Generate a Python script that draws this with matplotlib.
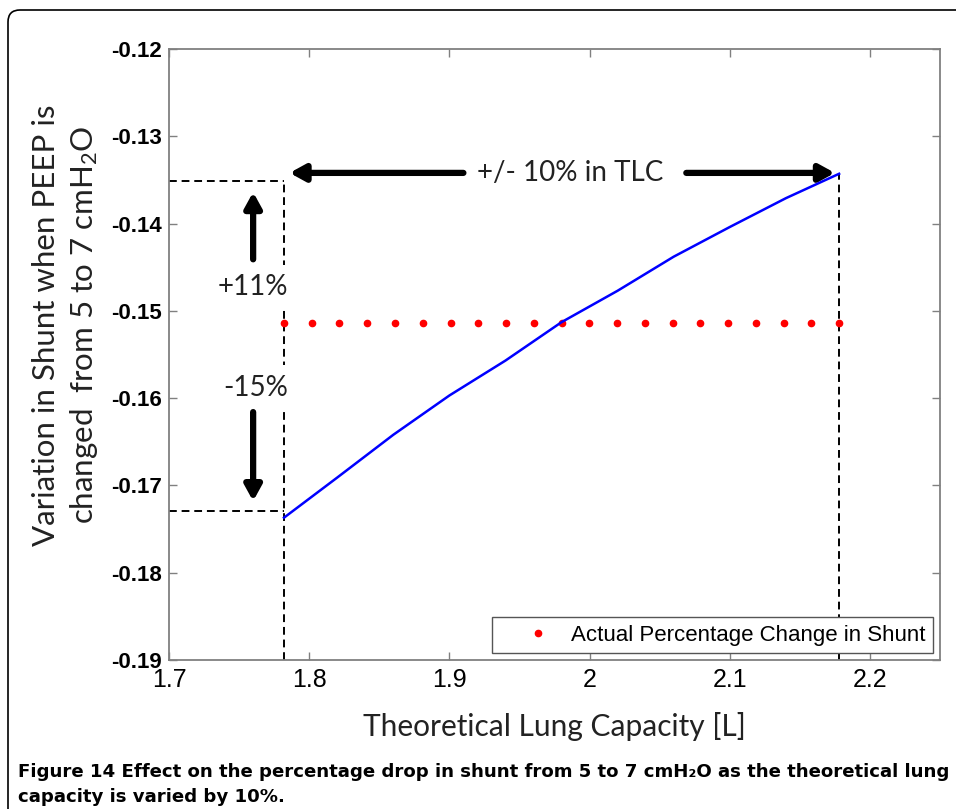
import matplotlib
matplotlib.use('Agg')
import matplotlib.pyplot as plt
from matplotlib.patches import FancyBboxPatch

plt.rcParams['axes.unicode_minus'] = False
plt.rcParams['mathtext.fontset'] = 'custom'
plt.rcParams['mathtext.rm'] = 'Lato'
plt.rcParams['mathtext.it'] = 'Lato:italic'

# blue curve: shunt change vs theoretical lung capacity
tlc = [1.782, 1.82, 1.86, 1.90, 1.94, 1.98, 2.02, 2.06, 2.10, 2.14, 2.178]
shunt = [-0.1737, -0.1691, -0.1642, -0.1597, -0.1557, -0.1513,
         -0.1477, -0.1438, -0.1404, -0.1371, -0.1343]

# red dotted reference (actual percentage change)
actual_x = [1.782 + 0.0198 * i for i in range(21)]
actual_y = [-0.1514] * 21

tlc_low, tlc_high = 1.782, 2.178
shunt_low, shunt_high = -0.1729, -0.1351
arrow_y = -0.1342

xticks = [1.7, 1.8, 1.9, 2.0, 2.1, 2.2]
xticklabels = ['1.7', '1.8', '1.9', '2', '2.1', '2.2']
yticks = [-0.19, -0.18, -0.17, -0.16, -0.15, -0.14, -0.13, -0.12]
yticklabels = ['-0.19', '-0.18', '-0.17', '-0.16', '-0.15', '-0.14', '-0.13', '-0.12']

fig = plt.figure(figsize=(9.56, 8.09), dpi=100)
ax = fig.add_axes([0.1768, 0.1842, 0.8065, 0.7553])

# outer frame with rounded corner
frame = FancyBboxPatch((8, -30), 980, 829, boxstyle='round,pad=0,rounding_size=12',
                       transform=None, fc='none', ec='black', lw=1.2, clip_on=False)
fig.patches.append(frame)

dash = dict(color='black', lw=1.4, ls=(0, (4, 2.5)))
ax.plot([tlc_low, tlc_low], [-0.19, shunt_high], zorder=1, **dash)
ax.plot([tlc_high, tlc_high], [-0.19, arrow_y], zorder=1, **dash)
ax.plot([1.7, tlc_low], [shunt_high, shunt_high], zorder=1, **dash)
ax.plot([1.7, tlc_low], [shunt_low, shunt_low], zorder=1, **dash)

ax.plot(actual_x, actual_y, ls='none', marker='o', ms=4.5, color='red',
        mec='red', label='Actual Percentage Change in Shunt', zorder=3)
ax.plot(tlc, shunt, color='blue', lw=1.8, zorder=4)

arw = dict(arrowstyle='-|>,head_length=1.0,head_width=0.55', lw=4.5,
           color='black', mutation_scale=9, shrinkA=0, shrinkB=0)
ax.annotate('', xy=(1.786, arrow_y), xytext=(1.91, arrow_y), arrowprops=arw)
ax.annotate('', xy=(2.175, arrow_y), xytext=(2.069, arrow_y), arrowprops=arw)
ax.annotate('', xy=(1.760, -0.1364), xytext=(1.760, -0.1441), arrowprops=arw)
ax.annotate('', xy=(1.760, -0.1718), xytext=(1.760, -0.1616), arrowprops=arw)

ax.text(1.986, arrow_y, '+/- 10% in TLC', fontsize=20, family='Lato',
        ha='center', va='center', color='#222222')
ax.text(1.760, -0.1473, '+11%', fontsize=20, family='Lato', ha='center', va='center',
        color='#222222', bbox=dict(fc='white', ec='none', pad=7), zorder=2)
ax.text(1.762, -0.1588, '-15%', fontsize=20, family='Lato', ha='center', va='center',
        color='#222222', bbox=dict(fc='white', ec='none', pad=7), zorder=2)

ax.set_xlim(1.7, 2.25)
ax.set_ylim(-0.19, -0.12)
ax.set_xticks(xticks)
ax.set_xticklabels(xticklabels, fontsize=18, family='Liberation Sans')
ax.set_yticks(yticks)
ax.set_yticklabels(yticklabels, fontsize=16, family='Liberation Sans', fontweight='bold')
ax.tick_params(direction='in', top=True, right=True, length=6, width=1,
               color='#808080')
ax.tick_params(axis='x', pad=6)
ax.tick_params(axis='y', pad=5)
for s in ax.spines.values():
    s.set_color('#808080')
    s.set_linewidth(1.3)

ax.set_xlabel('Theoretical Lung Capacity [L]', fontsize=21.5, family='Lato',
              color='#222222', labelpad=14)
ax.set_ylabel('Variation in Shunt when PEEP is\nchanged  from 5 to 7 cmH$_2$O',
              fontsize=22.5, family='Lato', color='#222222',
              linespacing=1.35)
ax.yaxis.set_label_coords(-0.089, 0.548)

leg = ax.legend(loc='lower right', prop={'family': 'Liberation Sans', 'size': 16},
                fancybox=False, framealpha=1, edgecolor='#555555',
                borderaxespad=0.3, handlelength=3.4, handletextpad=-0.2,
                borderpad=0.35)
leg.get_frame().set_linewidth(1.0)

fig.text(18 / 956, 1 - 772 / 809,
         'Figure 14 Effect on the percentage drop in shunt from 5 to 7 cmH\u2082O as the theoretical lung',
         fontsize=13.1, fontweight='bold', family='DejaVu Sans', va='center', ha='left')
fig.text(18 / 956, 1 - 797 / 809, 'capacity is varied by 10%.',
         fontsize=13.1, fontweight='bold', family='DejaVu Sans', va='center', ha='left')

fig.savefig('out.png', dpi=100)
